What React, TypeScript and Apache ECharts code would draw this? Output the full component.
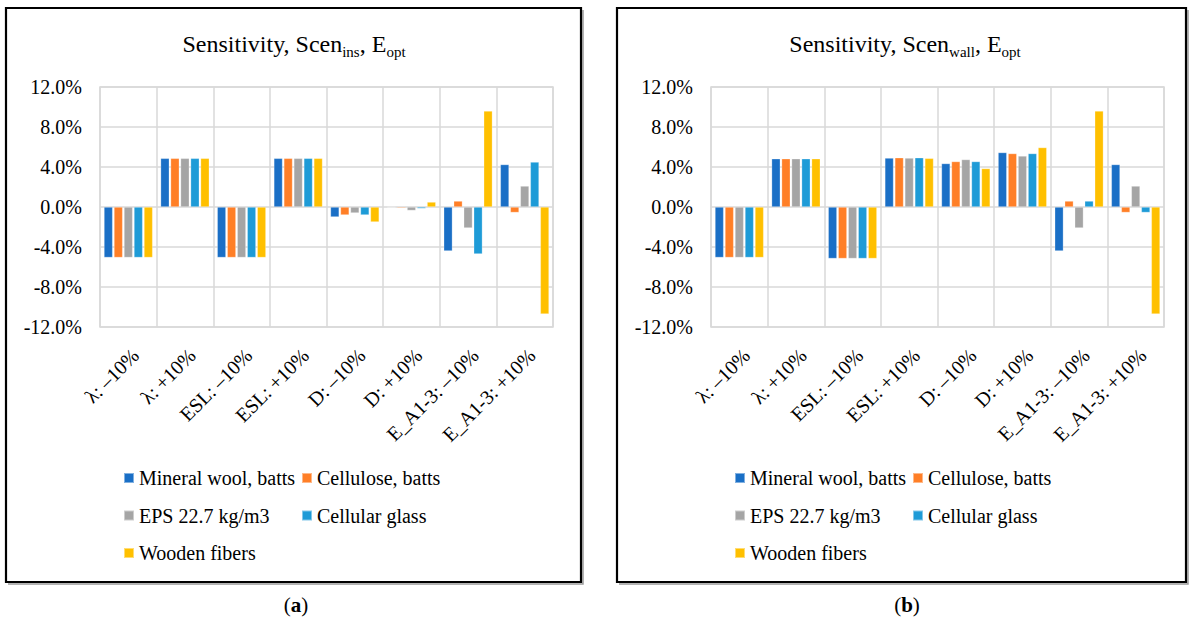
import React, { useEffect, useRef } from "react";
import * as echarts from "echarts";

const categories = [
  "λ: –10%",
  "λ: +10%",
  "ESL: –10%",
  "ESL: +10%",
  "D: –10%",
  "D: +10%",
  "E_A1-3: –10%",
  "E_A1-3: +10%",
];

const seriesNames = [
  "Mineral wool, batts",
  "Cellulose, batts",
  "EPS 22.7 kg/m3",
  "Cellular glass",
  "Wooden fibers",
];

const seriesColors = ["#1A6FC6", "#FF7F27", "#A5A5A5", "#1E9BD7", "#FFC000"];

// Panel (a): Scen_ins
const mineralA = [-5.05, 4.87, -5.05, 4.87, -1.0, -0.03, -4.4, 4.25];
const celluloseA = [-5.05, 4.87, -5.05, 4.87, -0.8, -0.1, 0.6, -0.55];
const epsA = [-5.05, 4.87, -5.05, 4.87, -0.6, -0.35, -2.1, 2.1];
const cellularA = [-5.05, 4.87, -5.05, 4.87, -0.8, -0.15, -4.7, 4.5];
const woodenA = [-5.05, 4.87, -5.05, 4.87, -1.5, 0.5, 9.6, -10.7];

// Panel (b): Scen_wall
const mineralB = [-5.05, 4.83, -5.15, 4.9, 4.35, 5.45, -4.4, 4.25];
const celluloseB = [-5.05, 4.83, -5.15, 4.93, 4.55, 5.35, 0.6, -0.55];
const epsB = [-5.05, 4.83, -5.15, 4.9, 4.75, 5.1, -2.1, 2.1];
const cellularB = [-5.05, 4.83, -5.15, 4.93, 4.55, 5.35, 0.6, -0.55];
const woodenB = [-5.05, 4.83, -5.15, 4.87, 3.85, 5.95, 9.6, -10.7];

const yMin = -12;
const yMax = 12;
const yInterval = 4;

const panelTitles = [
  ["Sensitivity, Scen", "ins", ", E", "opt"],
  ["Sensitivity, Scen", "wall", ", E", "opt"],
];
const captions = ["a", "b"];

const FONT = "Liberation Serif";
const GRID_COLOR = "#D9D9D9";

export default function App() {
  const ref = useRef<HTMLDivElement>(null);

  useEffect(() => {
    if (!ref.current) return;
    const chart = echarts.init(ref.current, undefined, { renderer: "svg" });

    const panelData = [
      [mineralA, celluloseA, epsA, cellularA, woodenA],
      [mineralB, celluloseB, epsB, cellularB, woodenB],
    ];
    const offsets = [0, 611];

    const grids = offsets.map((dx) => ({
      left: 100 + dx,
      top: 87,
      width: 453,
      height: 240,
      show: true,
      borderColor: GRID_COLOR,
      borderWidth: 1.5,
      backgroundColor: "transparent",
    }));

    const xAxes = offsets.map((_, p) => ({
      type: "category",
      gridIndex: p,
      data: categories,
      axisLine: { show: false },
      axisTick: { show: false },
      splitLine: { show: true, lineStyle: { color: GRID_COLOR, width: 1.5 } },
      axisLabel: {
        interval: 0,
        rotate: 45,
        margin: 18,
        align: "right",
        verticalAlign: "top",
        fontFamily: FONT,
        fontSize: 20,
        color: "#000",
      },
    }));

    const yAxes = offsets.map((_, p) => ({
      type: "value",
      gridIndex: p,
      min: yMin,
      max: yMax,
      interval: yInterval,
      axisLine: { show: false },
      axisTick: { show: false },
      splitLine: { show: true, lineStyle: { color: GRID_COLOR, width: 1.5 } },
      axisLabel: {
        margin: 18,
        fontFamily: FONT,
        fontSize: 20,
        color: "#000",
        formatter: (v: number) => v.toFixed(1) + "%",
      },
    }));

    const series: any[] = [];
    panelData.forEach((arrs, p) => {
      arrs.forEach((arr, i) => {
        series.push({
          type: "bar",
          name: seriesNames[i],
          xAxisIndex: p,
          yAxisIndex: p,
          data: arr,
          barGap: "15%",
          barCategoryGap: "14%",
          itemStyle: {
            color: seriesColors[i],
            borderColor: "rgba(255,255,255,0.45)",
            borderWidth: 0.6,
          },
        });
      });
    });

    const legendBase = {
      orient: "vertical",
      top: 467,
      padding: 0,
      icon: "rect",
      itemWidth: 10,
      itemHeight: 10,
      itemGap: 15.5,
      selectedMode: false,
      textStyle: { fontFamily: FONT, fontSize: 20, color: "#000", lineHeight: 22 },
    };
    const legends: any[] = [];
    offsets.forEach((dx) => {
      legends.push({ ...legendBase, left: 123 + dx, data: [seriesNames[0], seriesNames[2], seriesNames[4]] });
      legends.push({ ...legendBase, left: 301 + dx, data: [seriesNames[1], seriesNames[3]] });
    });

    const graphics: any[] = [];
    const frames = [
      { x: 6, w: 575 },
      { x: 617, w: 569 },
    ];
    frames.forEach((f) => {
      graphics.push({
        type: "polyline",
        shape: {
          points: [
            [f.x + f.w + 2, 10],
            [f.x + f.w + 2, 584],
            [f.x + 2, 584],
          ],
        },
        style: { fill: "none", stroke: "#9a9a9a", lineWidth: 1.5 },
      });
      graphics.push({
        type: "rect",
        shape: { x: f.x, y: 8, width: f.w, height: 574 },
        style: { fill: "none", stroke: "#000", lineWidth: 2.2 },
      });
    });
    offsets.forEach((dx, p) => {
      const t = panelTitles[p];
      graphics.push({
        type: "text",
        x: 294 + dx,
        y: 44,
        style: {
          text: `{m|${t[0]}}{s|${t[1]}}{m|${t[2]}}{s|${t[3]}}`,
          align: "center",
          verticalAlign: "middle",
          rich: {
            m: { fontFamily: FONT, fontSize: 24, lineHeight: 30, fill: "#000" },
            s: { fontFamily: FONT, fontSize: 15, lineHeight: 16, verticalAlign: "bottom", fill: "#000" },
          },
        },
      });
      graphics.push({
        type: "text",
        x: 296 + dx,
        y: 605,
        style: {
          text: `{n|(}{b|${captions[p]}}{n|)}`,
          align: "center",
          verticalAlign: "middle",
          rich: {
            n: { fontFamily: FONT, fontSize: 21, fill: "#000" },
            b: { fontFamily: FONT, fontSize: 21, fontWeight: "bold", fill: "#000" },
          },
        },
      });
    });

    chart.setOption({
      animation: false,
      backgroundColor: "#fff",
      grid: grids,
      xAxis: xAxes,
      yAxis: yAxes,
      legend: legends,
      series,
      graphic: graphics,
    });

    return () => {
      chart.dispose();
    };
  }, []);

  return (
    <div
      ref={ref}
      style={{ position: "fixed", left: 0, top: 0, width: 1190, height: 630 }}
    />
  );
}
